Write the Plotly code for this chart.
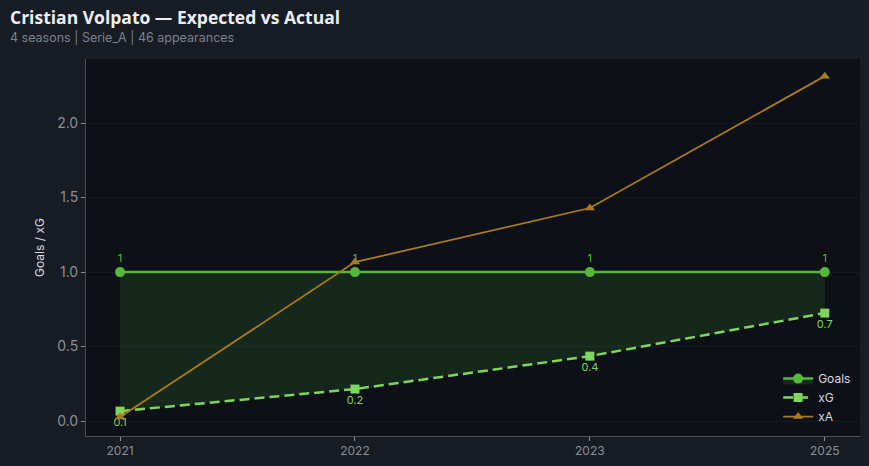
import plotly.graph_objects as go

seasons = ["2021", "2022", "2023", "2025"]
goals = [1, 1, 1, 1]
xg = [0.067, 0.215, 0.436, 0.725]
xa = [0.027, 1.067, 1.43, 2.315]
xg_labels = ["0.1", "0.2", "0.4", "0.7"]
goal_labels = ["1", "1", "1", "1"]

c_goals = "#55b83c"
c_xg = "#7fd65c"
c_xa = "#a97b1e"

fig = go.Figure()
fig.add_trace(go.Scatter(
    x=seasons, y=xg, name="xG", mode="lines+markers+text",
    line=dict(color=c_xg, width=2.5, dash="10px,5px"),
    marker=dict(symbol="square", size=9, color=c_xg),
    text=xg_labels, textposition="bottom center",
    textfont=dict(color=c_xg, size=11, family="Inter"),
    legendrank=2,
))
fig.add_trace(go.Scatter(
    x=seasons, y=goals, name="Goals", mode="lines+markers+text",
    line=dict(color=c_goals, width=2.5),
    marker=dict(symbol="circle", size=10, color=c_goals),
    fill="tonexty", fillcolor="rgba(76,175,60,0.15)",
    text=goal_labels, textposition="top center",
    textfont=dict(color=c_goals, size=11, family="Inter"),
    legendrank=1,
))
fig.add_trace(go.Scatter(
    x=seasons, y=xa, name="xA", mode="lines+markers",
    line=dict(color=c_xa, width=1.8),
    marker=dict(symbol="triangle-up", size=9, color=c_xa),
    legendrank=3,
))

fig.update_layout(
    width=869, height=466,
    margin=dict(l=86, r=9, t=59, b=30),
    paper_bgcolor="#181c24",
    plot_bgcolor="#0d1017",
    font=dict(family="Inter", color="#8a8f98", size=12),
    showlegend=True,
    legend=dict(
        x=0.995, xanchor="right", y=0.013, yanchor="bottom",
        traceorder="normal", tracegroupgap=0,
        bgcolor="rgba(0,0,0,0)",
        font=dict(color="#d8dbe0", size=12, family="Inter"),
    ),
    xaxis=dict(
        type="category", range=[-0.145, 3.15],
        showgrid=False, showline=True, linecolor="#4a4f58", linewidth=1,
        ticks="outside", tickcolor="#8a8f98", ticklen=4,
        tickfont=dict(color="#8a8f98", size=12), zeroline=False,
    ),
    yaxis=dict(
        range=[-0.1, 2.43],
        tickvals=[0, 0.5, 1.0, 1.5, 2.0],
        ticktext=["0.0", "0.5", "1.0", "1.5", "2.0"],
        showgrid=True, gridcolor="rgba(255,255,255,0.04)",
        showline=True, linecolor="#4a4f58", linewidth=1,
        ticks="outside", tickcolor="#8a8f98", ticklen=4,
        tickfont=dict(color="#8a8f98", size=14), zeroline=False,
        title=dict(text="Goals / xG", font=dict(color="#d8dbe0", size=12), standoff=9),
    ),
    annotations=[
        dict(text="<b>Cristian Volpato — Expected vs Actual</b>",
             xref="paper", yref="paper", x=-0.1008, y=1.111,
             xanchor="left", yanchor="middle", showarrow=False,
             font=dict(family="Open Sans", size=17.5, color="#eceef3")),
        dict(text="4 seasons | Serie_A | 46 appearances",
             xref="paper", yref="paper", x=-0.1008, y=1.058,
             xanchor="left", yanchor="middle", showarrow=False,
             font=dict(family="Inter", size=12.5, color="#7d828c")),
    ],
)

fig.write_html(
    "out.html",
    config={"displayModeBar": False},
    post_script="document.body.style.margin='0';document.body.style.padding='0';document.documentElement.style.background='#181c24';",
)
